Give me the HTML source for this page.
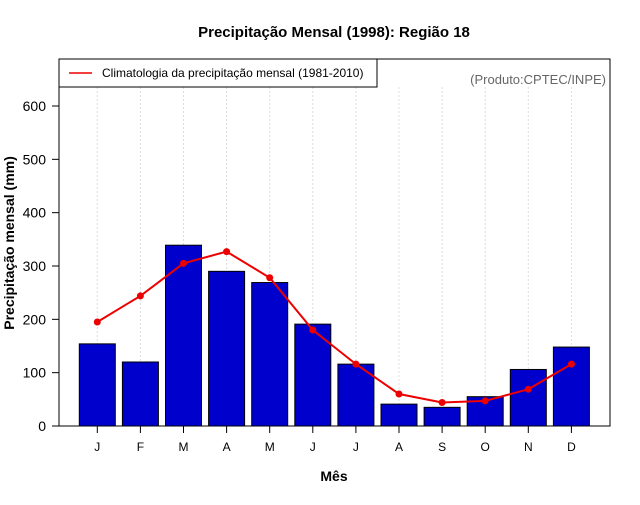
<!DOCTYPE html>
<html><head><meta charset="utf-8"><style>
body{margin:0;background:#fff;}
svg text{font-family:"Liberation Sans",sans-serif;}
</style></head><body>
<svg id="c" width="640" height="500" xmlns="http://www.w3.org/2000/svg">
<text x="334" y="37" text-anchor="middle" font-size="15" font-weight="bold">Precipitação Mensal (1998): Região 18</text>
<text x="334" y="481" text-anchor="middle" font-size="14" font-weight="bold">Mês</text>
<text transform="translate(14,243) rotate(-90)" text-anchor="middle" font-size="14" font-weight="bold">Precipitação mensal (mm)</text>
<text x="606" y="84" text-anchor="end" font-size="13" fill="#666">(Produto:CPTEC/INPE)</text>
<g id="grid"></g><g id="bars"></g><g id="line"></g><g id="axes"></g>
<rect x="59" y="59" width="551" height="367" fill="none" stroke="#000" stroke-width="1"/>
<g>
<rect x="59" y="59" width="318" height="28" fill="#fff" stroke="#000"/>
<line x1="69" y1="73" x2="92" y2="73" stroke="#e00" stroke-width="1.5"/>
<text x="102" y="77" font-size="12">Climatologia da precipitação mensal (1981-2010)</text>
</g>
</svg>
<script>
const months=["J","F","M","A","M","J","J","A","S","O","N","D"];
const precip=[154,120,339,290,269,191,116,41,35,55,106,148];
const clim=[195,244,305,327,278,180,116,60,44,47,69,116];
const yTicks=[0,100,200,300,400,500,600];
const NS="http://www.w3.org/2000/svg";
const xs=i=>97.3+43.1*i;
const ys=v=>426-v*320/600;
function mk(tag,attrs,parent){const e=document.createElementNS(NS,tag);for(const k in attrs)e.setAttribute(k,attrs[k]);document.getElementById(parent).appendChild(e);return e;}
months.forEach((m,i)=>{
 const g=mk('line',{x1:xs(i),x2:xs(i),y1:87,y2:426,stroke:'#ddd','stroke-dasharray':'2,2'},'grid');
 
 
 const b=mk('rect',{x:xs(i)-18,y:ys(precip[i]),width:36,height:426-ys(precip[i]),fill:'#0000cd',stroke:'#000','stroke-width':1},'bars');
 
 
 const t=mk('line',{x1:xs(i),x2:xs(i),y1:426,y2:433,stroke:'#000'},'axes');
 
 
 const l=mk('text',{x:xs(i),y:451,'text-anchor':'middle','font-size':12},'axes');
 l.textContent=m;
 
 
});
const pl=mk('polyline',{points:clim.map((v,i)=>xs(i)+','+ys(v)).join(' '),fill:'none',stroke:'#e00','stroke-width':2},'line');


clim.forEach((v,i)=>{
 const c=mk('circle',{cx:xs(i),cy:ys(v),r:3.5,fill:'#e00'},'line');
 
 
});
yTicks.forEach(v=>{
 const t=mk('line',{x1:52,x2:59,y1:ys(v),y2:ys(v),stroke:'#000'},'axes');
 
 
 const l=mk('text',{x:46,y:ys(v)+5,'text-anchor':'end','font-size':14},'axes');
 l.textContent=v;
 
 
});
</script>
</body></html>
